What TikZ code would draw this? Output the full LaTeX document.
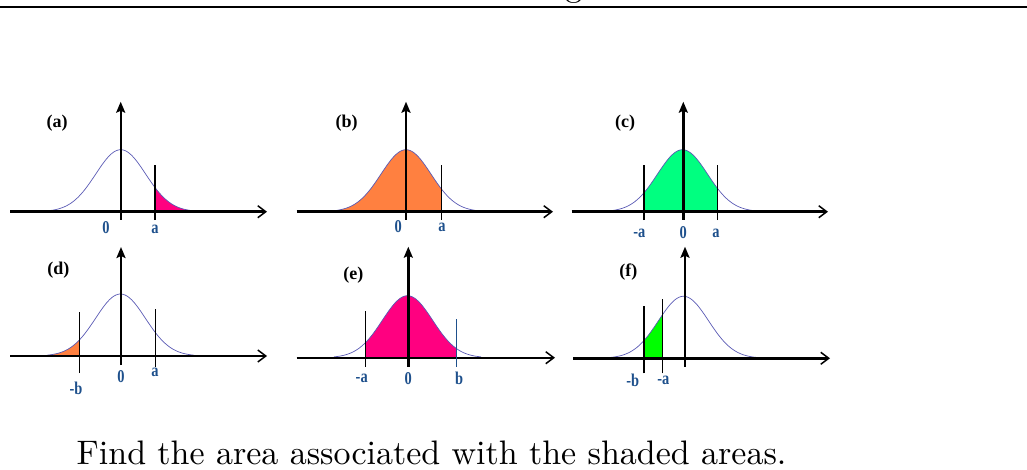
\documentclass[tikz,border=0pt]{standalone}
\usepackage{fontspec}
\newfontfamily\labfont{Liberation Serif}
\newfontfamily\capfont{lmroman10-regular}[Extension=.otf]
\usetikzlibrary{arrows.meta}
\definecolor{pinkfill}{RGB}{255,0,128}
\definecolor{orangefill}{RGB}{255,128,64}
\definecolor{seafill}{RGB}{0,255,128}
\definecolor{limefill}{RGB}{0,255,0}
\definecolor{curveblue}{RGB}{90,90,180}
\definecolor{labblue}{RGB}{30,80,140}

\begin{document}
\begin{tikzpicture}[x=1pt,y=-1pt,
  declare function={bell(\x)=62*exp(-(\x)^2/1250);},
  axis/.style={line width=2.4pt,-{Straight Barb[length=8pt,width=12pt,line width=1.5pt]}},
  yaxis/.style={line width=2.4pt,-{Stealth[length=11pt,width=9pt,inset=2pt]}},
  cut/.style={line width=1.4pt},
  curve/.style={curveblue,line width=0.7pt},
  lab/.style={text=labblue,inner sep=0pt,xscale=0.8,
    font=\labfont\bfseries\fontsize{18}{20}\selectfont},
  tag/.style={inner sep=0pt,font=\labfont\bfseries\fontsize{18}{20}\selectfont}
]
\useasboundingbox (0,0) rectangle (1027,470);
\draw[line width=1.3pt] (0,7) -- (1027,7);
\node[anchor=base,inner sep=0pt,font=\capfont\fontsize{34}{40}\selectfont] (head) at (573.5,-3) {g};

% (a)
\begin{scope}[shift={(120.7,211.7)}]
  \fill[pinkfill] (34.3,0) -- plot[domain=34.3:73.5,samples=30] (\x,{-bell(\x)}) -- cycle;
  \draw[curve] plot[domain=-73.5:73.5,samples=90] (\x,{-bell(\x)});
  \draw[axis] (-110.7,0) -- (146.3,0);
  \draw[yaxis] (0,8.3) -- (0,-110);
  \draw[cut] (34.3,8.5) -- (34.3,-46.7);
  \node[tag] (tagA) at (-63.7,-88.7) {(a)};
  \node[lab] (zeroA) at (-14.7,16.3) {0};
  \node[lab] (posA) at (34.3,17.3) {a};
\end{scope}

% (b)
\begin{scope}[shift={(406,211.7)}]
  \fill[orangefill] (-73.5,0) -- plot[domain=-73.5:35.7,samples=60] (\x,{-bell(\x)}) -- (35.7,0) -- cycle;
  \draw[curve] plot[domain=-73.5:73.5,samples=90] (\x,{-bell(\x)});
  \draw[axis] (-109.3,0) -- (147,0);
  \draw[yaxis] (0,8.3) -- (0,-110);
  \draw[cut] (35.7,8.5) -- (35.7,-46.7);
  \node[tag] (tagB) at (-59.3,-88.7) {(b)};
  \node[lab] (zeroB) at (-7.7,15) {0};
  \node[lab] (posB) at (36,15.3) {a};
\end{scope}

% (c)
\begin{scope}[shift={(682.5,211.7)}]
  \fill[seafill] (-38.5,0) -- plot[domain=-38.5:34.8,samples=60] (\x,{-bell(\x)}) -- (34.8,0) -- cycle;
  \draw[curve] plot[domain=-73.5:73.5,samples=90] (\x,{-bell(\x)});
  \draw[axis] (-111,0) -- (145.5,0);
  \draw[yaxis] (0.8,8.3) -- (0.8,-110);
  \draw[cut] (-38.5,8.5) -- (-38.5,-46.7);
  \draw[cut] (34.8,8.5) -- (34.8,-46.7);
  \node[tag] (tagC) at (-57.5,-88.7) {(c)};
  \node[lab] (negC) at (-43.2,21.3) {-a};
  \node[lab] (zeroC) at (0.8,21.3) {0};
  \node[lab] (posC) at (33.5,21.3) {a};
\end{scope}

% (d)
\begin{scope}[shift={(120.5,356)}]
  \fill[orangefill] (-73.5,0) -- plot[domain=-73.5:-41.2,samples=30] (\x,{-bell(\x)}) -- (-41.2,0) -- cycle;
  \draw[curve] plot[domain=-73.5:73.5,samples=90] (\x,{-bell(\x)});
  \draw[axis] (-110.5,0) -- (146.5,0);
  \draw[yaxis] (0.5,9) -- (0.5,-109);
  \draw[cut] (-41.2,17) -- (-41.2,-44.3);
  \draw[cut] (34.8,11) -- (34.8,-47);
  \node[tag] (tagD) at (-62.2,-86) {(d)};
  \node[lab] (negD) at (-44.5,32.3) {-b};
  \node[lab] (zeroD) at (0.5,20.7) {0};
  \node[lab] (posD) at (34.5,16.7) {a};
\end{scope}

% (e)
\begin{scope}[shift={(407.5,357.7)}]
  \fill[pinkfill] (-41.8,0) -- plot[domain=-41.8:49.2,samples=60] (\x,{-bell(\x)}) -- (49.2,0) -- cycle;
  \draw[curve] plot[domain=-73.5:73.5,samples=90] (\x,{-bell(\x)});
  \draw[axis] (-110.8,0) -- (147.5,0);
  \draw[yaxis] (0.8,9) -- (0.8,-111);
  \draw[cut] (-41.8,9) -- (-41.8,-46.7);
  \draw[cut,labblue] (49.2,9) -- (49.2,-38.7);
  \node[tag] (tagE) at (-54.2,-82.7) {(e)};
  \node[lab] (negE) at (-45.8,20.6) {-a};
  \node[lab] (zeroE) at (0.8,20.6) {0};
  \node[lab] (posE) at (51.5,20.6) {b};
\end{scope}

% (f)
\begin{scope}[shift={(683.5,358.3)}]
  \fill[limefill] (-39.5,0) -- plot[domain=-39.5:-21.2,samples=30] (\x,{-bell(\x)}) -- (-21.2,0) -- cycle;
  \draw[curve] plot[domain=-73.5:73.5,samples=90] (\x,{-bell(\x)});
  \draw[axis] (-110.2,0) -- (146.5,0);
  \draw[yaxis] (1.5,8.4) -- (1.5,-111.6);
  \draw[cut] (-39.5,15) -- (-39.5,-52.6);
  \draw[cut] (-21.2,15) -- (-21.2,-59.3);
  \node[tag] (tagF) at (-55.2,-86.6) {(f)};
  \node[lab] (negbF) at (-50.8,21.7) {-b};
  \node[lab] (negaF) at (-20.2,21.7) {-a};
\end{scope}

\node[anchor=base west,inner sep=0pt,font=\capfont\fontsize{34}{40}\selectfont] (caption) at (76.5,464) {Find the area associated with the shaded areas.};
\end{tikzpicture}
\end{document}
